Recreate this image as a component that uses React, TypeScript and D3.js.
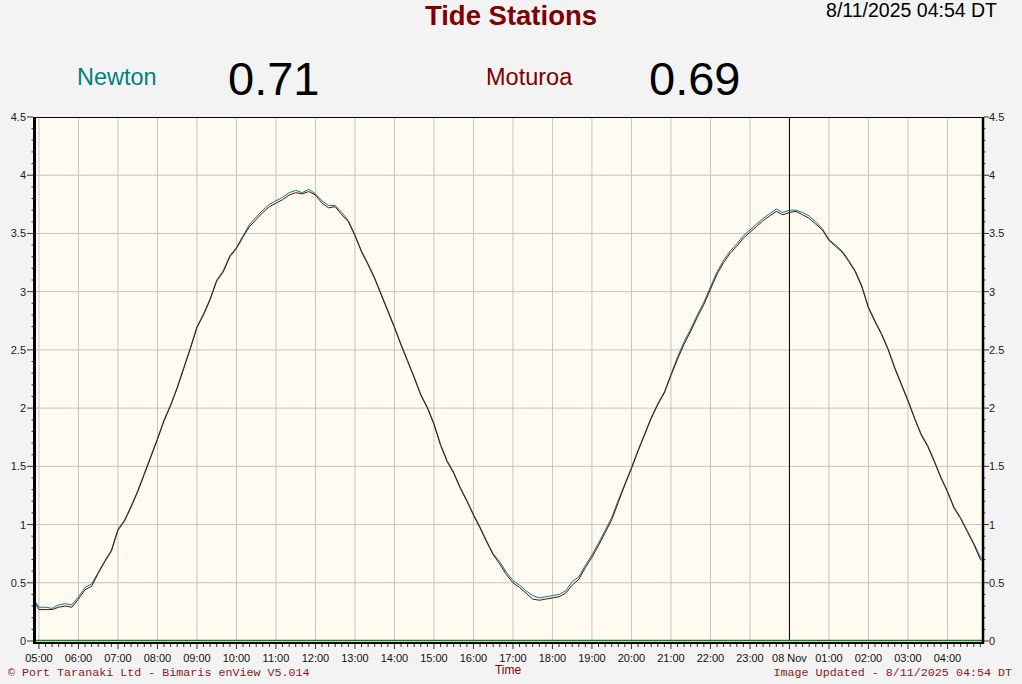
import React from "react";
import * as d3 from "d3";

// ---- data ----
const START = new Date(2025, 10, 7, 4, 54);
const END = new Date(2025, 10, 8, 4, 54);
const FIRST_SLOT = new Date(2025, 10, 7, 5, 0);
const MIDNIGHT = new Date(2025, 10, 8, 0, 0);

const stationNames = ["Newton", "Moturoa"];
const stationColors = ["#008080", "#800000"];

// readings: 04:54, then every 10 minutes from 05:00 to 04:50, then 04:54
const newtonValues = [
  0.34,
  0.29, 0.29, 0.28, 0.31, 0.32, 0.31,
  0.38, 0.46, 0.49, 0.59, 0.69, 0.78,
  0.96, 1.04, 1.16, 1.29, 1.44, 1.59,
  1.74, 1.90, 2.03, 2.18, 2.35, 2.52,
  2.70, 2.81, 2.94, 3.10, 3.18, 3.31,
  3.38, 3.48, 3.58, 3.64, 3.70, 3.75,
  3.78, 3.81, 3.85, 3.87, 3.85, 3.88,
  3.84, 3.78, 3.74, 3.74, 3.68, 3.61,
  3.49, 3.35, 3.24, 3.12, 2.98, 2.84,
  2.70, 2.55, 2.41, 2.27, 2.12, 2.01,
  1.87, 1.69, 1.55, 1.45, 1.32, 1.21,
  1.09, 0.98, 0.86, 0.75, 0.68, 0.59,
  0.52, 0.48, 0.43, 0.39, 0.37, 0.38,
  0.39, 0.40, 0.43, 0.51, 0.55, 0.65,
  0.74, 0.84, 0.95, 1.06, 1.21, 1.35,
  1.49, 1.64, 1.78, 1.92, 2.04, 2.14,
  2.29, 2.44, 2.57, 2.68, 2.80, 2.91,
  3.04, 3.17, 3.27, 3.35, 3.41, 3.48,
  3.53, 3.58, 3.63, 3.67, 3.71, 3.68,
  3.70, 3.70, 3.68, 3.65, 3.60, 3.54,
  3.45, 3.40, 3.35, 3.27, 3.18, 3.05,
  2.87, 2.75, 2.64, 2.51, 2.35, 2.21,
  2.07, 1.92, 1.78, 1.68, 1.55, 1.41,
  1.29, 1.15, 1.06, 0.95, 0.84, 0.72,
  0.71,
];

const moturoaValues = [
  0.33,
  0.27, 0.27, 0.27, 0.29, 0.30, 0.29,
  0.36, 0.44, 0.47, 0.58, 0.68, 0.77,
  0.95, 1.03, 1.15, 1.28, 1.43, 1.58,
  1.73, 1.89, 2.02, 2.17, 2.34, 2.51,
  2.69, 2.80, 2.93, 3.09, 3.17, 3.30,
  3.37, 3.47, 3.56, 3.62, 3.68, 3.73,
  3.76, 3.79, 3.83, 3.85, 3.84, 3.86,
  3.83, 3.76, 3.72, 3.73, 3.66, 3.60,
  3.48, 3.34, 3.23, 3.11, 2.97, 2.83,
  2.69, 2.54, 2.40, 2.26, 2.11, 2.00,
  1.86, 1.68, 1.54, 1.44, 1.31, 1.20,
  1.08, 0.97, 0.85, 0.74, 0.66, 0.57,
  0.50, 0.46, 0.41, 0.36, 0.35, 0.36,
  0.37, 0.38, 0.41, 0.48, 0.53, 0.63,
  0.72, 0.82, 0.93, 1.04, 1.19, 1.34,
  1.48, 1.63, 1.77, 1.91, 2.03, 2.13,
  2.28, 2.42, 2.55, 2.66, 2.78, 2.89,
  3.02, 3.15, 3.25, 3.33, 3.39, 3.46,
  3.51, 3.56, 3.61, 3.65, 3.69, 3.66,
  3.68, 3.69, 3.66, 3.63, 3.58, 3.53,
  3.44, 3.39, 3.34, 3.26, 3.17, 3.04,
  2.86, 2.74, 2.63, 2.50, 2.34, 2.20,
  2.06, 1.91, 1.77, 1.67, 1.54, 1.40,
  1.28, 1.14, 1.05, 0.94, 0.83, 0.70,
  0.69,
];

const yMajorTicks = [0, 0.5, 1, 1.5, 2, 2.5, 3, 3.5, 4, 4.5];
const yTickLabels = ["0", "0.5", "1", "1.5", "2", "2.5", "3", "3.5", "4", "4.5"];

const titleText = "Tide Stations";
const stampText = "8/11/2025 04:54 DT";
const footerLeft = "\u00A9 Port Taranaki Ltd - Bimaris enView V5.014";
const footerRight = "Image Updated - 8/11/2025 04:54 DT";

// ---- layout ----
const W = 1022;
const H = 684;
const L = 35;
const R = 983;
const T = 117;
const B = 641;
const SANS = "'Liberation Sans', Arial, sans-serif";
const MONO = "'Liberation Mono', 'Courier New', monospace";

export default function App() {
  const times: Date[] = [START, ...d3.timeMinute.every(10)!.range(FIRST_SLOT, END), END];
  const x = d3.scaleTime().domain([START, END]).range([L, R]);
  const y = d3.scaleLinear().domain([0, 4.5]).range([B, T]);

  const hourTicks = d3.timeHour.range(FIRST_SLOT, END);
  const minorX = d3.timeMinute.every(10)!.range(START, END);
  const minorY = d3.range(0, 46).map((i) => i / 10);

  const line = d3
    .line<number>()
    .x((_, i) => x(times[i]))
    .y((d) => y(d));

  const fmtHour = (d: Date) =>
    d.getHours() === 0 ? d3.timeFormat("%d %b")(d) : d3.timeFormat("%H:%M")(d);

  const series = [newtonValues, moturoaValues];
  const latest = series.map((s) => s[s.length - 1].toFixed(2));

  return (
    <svg
      width={W}
      height={H}
      style={{ position: "fixed", left: 0, top: 0, display: "block" }}
      fontFamily={SANS}
    >
      <rect x={0} y={0} width={W} height={H} fill="#f3f3f3" />

      {/* header */}
      <text x={511} y={25} textAnchor="middle" fontSize={27.5} fontWeight="bold" fill="#800000">
        {titleText}
      </text>
      <text x={997} y={17} textAnchor="end" fontSize={19.5} fill="#000">
        {stampText}
      </text>
      <text x={77} y={85} fontSize={23.5} fill={stationColors[0]}>
        {stationNames[0]}
      </text>
      <text x={228} y={95} fontSize={47} fill="#000">
        {latest[0]}
      </text>
      <text x={486} y={85} fontSize={23.5} fill={stationColors[1]}>
        {stationNames[1]}
      </text>
      <text x={649} y={95} fontSize={47} fill="#000">
        {latest[1]}
      </text>

      {/* plot background */}
      <rect x={L} y={T} width={R - L} height={B - T} fill="#fffbf1" />

      {/* grid */}
      {hourTicks.map((d, i) => (
        <line key={"gx" + i} x1={x(d)} x2={x(d)} y1={T} y2={B} stroke="#c4c4c4" strokeWidth={1} />
      ))}
      {yMajorTicks
        .filter((v) => v > 0 && v < 4.5)
        .map((v, i) => (
          <line key={"gy" + i} x1={L} x2={R} y1={y(v)} y2={y(v)} stroke="#c4c4c4" strokeWidth={1} />
        ))}

      {/* day marker */}
      <line x1={x(MIDNIGHT)} x2={x(MIDNIGHT)} y1={T} y2={B} stroke="#000" strokeWidth={1} />

      {/* zero line */}
      <line x1={L} x2={R} y1={y(0) - 0.5} y2={y(0) - 0.5} stroke="#1a7a1a" strokeWidth={1.5} />

      {/* series */}
      <path d={line(series[0]) || ""} fill="none" stroke={stationColors[0]} strokeWidth={1} />
      <path d={line(series[1]) || ""} fill="none" stroke="#5a0a0a" strokeWidth={1} />

      {/* frame */}
      <line x1={L} x2={R} y1={T + 0.5} y2={T + 0.5} stroke="#000" strokeWidth={1} />
      <line x1={L - 0.5} x2={L - 0.5} y1={T} y2={B + 3} stroke="#000" strokeWidth={3} />
      <line x1={R} x2={R} y1={T} y2={B + 3} stroke="#000" strokeWidth={2.5} />
      <line x1={L} x2={R} y1={B + 2} y2={B + 2} stroke="#000" strokeWidth={2} />

      {/* y ticks left & right */}
      {minorY.map((v, i) => {
        const major = Math.abs(v * 2 - Math.round(v * 2)) < 1e-6;
        return (
          <g key={"yt" + i}>
            <line x1={L - 2} x2={L - 2 - (major ? 6 : 1.5)} y1={y(v)} y2={y(v)} stroke="#333" strokeWidth={1} />
            <line x1={R + 1} x2={R + 1 + (major ? 5 : 1.5)} y1={y(v)} y2={y(v)} stroke="#333" strokeWidth={1} />
          </g>
        );
      })}
      {yMajorTicks.map((v, i) => (
        <g key={"yl" + i} fontSize={11} fill="#222">
          <text x={26} y={y(v) + 4} textAnchor="end">
            {yTickLabels[i]}
          </text>
          <text x={989} y={y(v) + 4} textAnchor="start">
            {yTickLabels[i]}
          </text>
        </g>
      ))}

      {/* x ticks */}
      {minorX.map((d, i) => {
        const major = d.getMinutes() === 0;
        return (
          <line
            key={"xt" + i}
            x1={x(d)}
            x2={x(d)}
            y1={B + 3}
            y2={B + 3 + (major ? 5 : 3)}
            stroke="#333"
            strokeWidth={1}
          />
        );
      })}
      {hourTicks.map((d, i) => (
        <text key={"xl" + i} x={x(d)} y={662} textAnchor="middle" fontSize={11} fill="#111">
          {fmtHour(d)}
        </text>
      ))}
      <text x={508} y={674} textAnchor="middle" fontSize={12} fill="#800000">
        Time
      </text>

      {/* footer */}
      <text x={8} y={676} fontFamily={MONO} fontSize={11.7} fill="#8b1a1a">
        {footerLeft}
      </text>
      <text x={1012} y={676} textAnchor="end" fontFamily={MONO} fontSize={11.7} fill="#8b1a1a">
        {footerRight}
      </text>
    </svg>
  );
}
